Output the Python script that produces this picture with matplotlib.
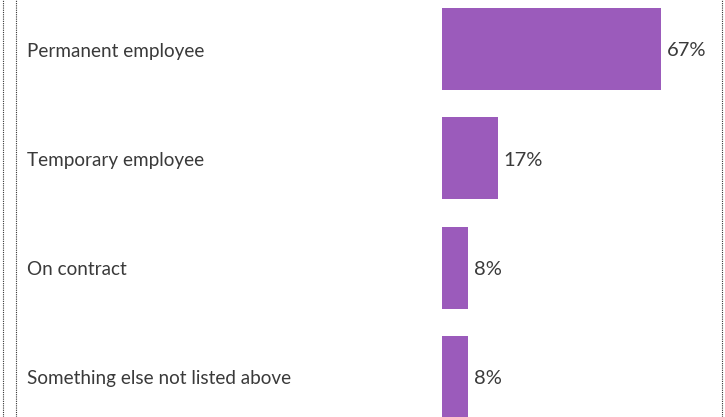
import matplotlib.pyplot as plt
from matplotlib.lines import Line2D
from matplotlib import transforms

# Data
categories = ["Permanent employee", "Temporary employee", "On contract",
              "Something else not listed above"]
shares = [67, 17, 8, 8]

BAR_COLOR = "#9b5bbb"
TEXT_COLOR = "#3a3a3a"
plt.rcParams['font.family'] = ['Lato', 'DejaVu Sans']

W, H = 725, 417
fig = plt.figure(figsize=(W / 100, H / 100), dpi=100)

# axes spans from bar origin to right border, full height
x0, x1 = 442, 722
ax = fig.add_axes([x0 / W, 0, (x1 - x0) / W, 1])
px_per_pct = 3.27
step = 109.33
first_center = 49
ax.set_xlim(0, (x1 - x0) / px_per_pct)
ax.set_ylim((H - first_center) / step, -first_center / step)

pos = list(range(len(categories)))
ax.barh(pos, shares, height=82 / step, color=BAR_COLOR)

dy = 2 / step  # nudge text slightly below bar centre
for p, v in zip(pos, shares):
    ax.text(v + 6 / px_per_pct, p + dy, f"{v}%", va="center", ha="left",
            fontsize=14.5, color=TEXT_COLOR)

# category labels on the left
trans = transforms.blended_transform_factory(fig.transFigure, ax.transData)
for p, c in zip(pos, categories):
    ax.text(27 / W, p + dy, c, transform=trans, va="center", ha="left",
            fontsize=13.6, color=TEXT_COLOR)

ax.axis("off")

# dotted pane borders
for xp in (3, 16, 722):
    fig.add_artist(Line2D([xp / W, xp / W], [0, 1], transform=fig.transFigure,
                          color="#333333", lw=0.8, linestyle=(0, (1, 1))))

fig.savefig("out.png", dpi=100)
